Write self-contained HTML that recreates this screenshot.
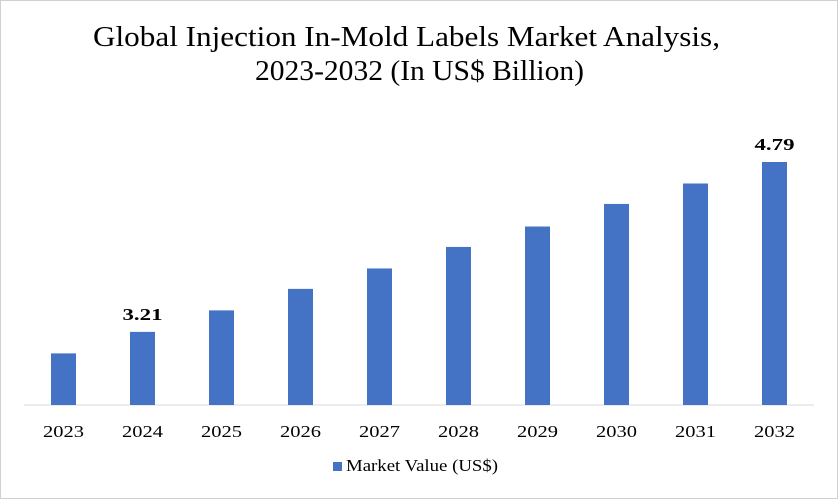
<!DOCTYPE html>
<html><head><meta charset="utf-8"><style>
html,body{margin:0;padding:0;background:#fff}
#c{position:relative;width:838px;height:499px;box-sizing:border-box;border:1px solid #d0d0d0;overflow:hidden}
svg text{font-family:"Liberation Serif",serif;fill:#000}
</style></head><body>
<div id="c">
<svg id="s" width="836" height="497" xmlns="http://www.w3.org/2000/svg">
<text x="92" y="45" font-size="29" textLength="627" lengthAdjust="spacingAndGlyphs">Global Injection In-Mold Labels Market Analysis,</text>
<text x="254" y="79" font-size="29" textLength="329" lengthAdjust="spacingAndGlyphs">2023-2032 (In US$ Billion)</text>
<line x1="23" y1="404" x2="813" y2="404" stroke="#d9d9d9" stroke-width="1"/>
<g id="bars"></g>
<rect x="332" y="461" width="9" height="9" fill="#4472c4"/>
<text x="345" y="470" font-size="17" textLength="152" lengthAdjust="spacingAndGlyphs">Market Value (US$)</text>
</svg>
</div>
<script>
const categories=["2023","2024","2025","2026","2027","2028","2029","2030","2031","2032"];
const values=[3.01,3.21,3.41,3.61,3.80,4.00,4.19,4.40,4.59,4.79];
const labelShown=[false,true,false,false,false,false,false,false,false,true];
const yMin=2.53, yMax=4.79;
const baseY=404, topY=161, left=23, step=79, barW=25;
function yScale(v){return baseY-(v-yMin)/(yMax-yMin)*(baseY-topY);}
function xCenter(i){return left+step*(i+0.5);}
const g=document.getElementById('bars');
const NS="http://www.w3.org/2000/svg";
categories.forEach((c,i)=>{
  const x=xCenter(i), y=yScale(values[i]);
  const r=document.createElementNS(NS,'rect');
  
  
  r.setAttribute('x',x-barW/2);r.setAttribute('y',y);
  r.setAttribute('width',barW);r.setAttribute('height',baseY-y);
  r.setAttribute('fill','#4472c4');g.appendChild(r);
  const t=document.createElementNS(NS,'text');
  
  
  t.setAttribute('x',x-20.5);t.setAttribute('y',436);
  t.setAttribute('font-size','17');
  t.setAttribute('textLength','41');t.setAttribute('lengthAdjust','spacingAndGlyphs');
  t.textContent=c;g.appendChild(t);
  if(labelShown[i]){
    const l=document.createElementNS(NS,'text');
    
    
    l.setAttribute('x',x-20);l.setAttribute('y',y-12);
    l.setAttribute('font-size','17');
    l.setAttribute('font-weight','bold');
    l.setAttribute('textLength','40');l.setAttribute('lengthAdjust','spacingAndGlyphs');
    l.textContent=values[i].toFixed(2);g.appendChild(l);
  }
});
</script>
</body></html>
